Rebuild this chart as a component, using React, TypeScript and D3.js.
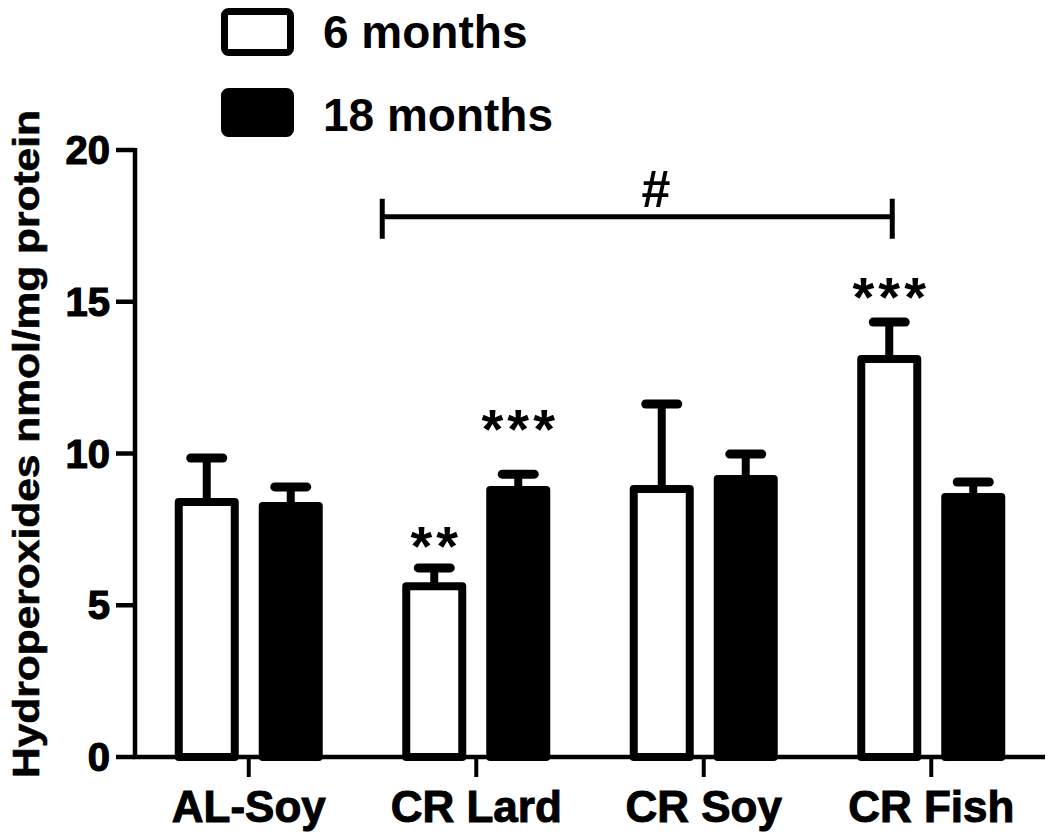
import React from "react";
import * as d3 from "d3";

const categories = ["AL-Soy", "CR Lard", "CR Soy", "CR Fish"];
const series = ["6 months", "18 months"];
const means6 = [8.4, 5.63, 8.83, 13.11];
const means18 = [8.27, 8.8, 9.16, 8.57];
const sem6 = [1.45, 0.6, 2.8, 1.22];
const sem18 = [0.63, 0.52, 0.82, 0.49];
const yTicks = [0, 5, 10, 15, 20];

// significance marks: category, series, label, level (in y units)
const stars = [
  { cat: "CR Lard", s: "6 months", label: "**", level: 7.35 },
  { cat: "CR Lard", s: "18 months", label: "***", level: 11.2 },
  { cat: "CR Fish", s: "6 months", label: "***", level: 15.55 },
];
const bracket = { from: "CR Lard", to: "CR Fish", label: "#", level: 17.8 };

const font = "'Liberation Sans', Arial, sans-serif";

export default function App() {
  const width = 1050;
  const height = 834;
  const x0 = 135;
  const x1 = 1045;
  const yBase = 757;
  const yTop = 150;

  const x = d3.scaleBand<string>().domain(categories).range([x0, x1]);
  const bw = x.bandwidth();
  const xs = d3
    .scaleBand<string>()
    .domain(series)
    .range([bw / 2 - 74, bw / 2 + 74])
    .paddingInner(0.238);
  const y = d3.scaleLinear().domain([0, 20]).range([yBase, yTop]);

  const rows = categories.flatMap((c, i) => [
    { c, s: series[0], v: means6[i], e: sem6[i], fill: "#fff" },
    { c, s: series[1], v: means18[i], e: sem18[i], fill: "#000" },
  ]);

  const sw = 8;
  const barW = xs.bandwidth();
  const cx = (c: string, s: string) => (x(c) ?? 0) + (xs(s) ?? 0) + barW / 2;

  const bx1 = (x(bracket.from) ?? 0) + (xs(series[0]) ?? 0) - 20;
  const bx2 = cx(bracket.to, series[0]) + 3;
  const by = y(bracket.level);

  return (
    <svg width={width} height={height} style={{ display: "block", position: "absolute", left: 0, top: 0 }}>
      <rect width={width} height={height} fill="#fff" />

      {/* legend */}
      <g fontFamily={font} fontWeight="bold" fontSize={46}>
        <rect x={224.5} y={11.5} width={66} height={41} rx={4} fill="#fff" stroke="#000" strokeWidth={7} />
        <text x={323} y={48}>{series[0]}</text>
        <rect x={224.5} y={91.5} width={66} height={42} rx={4} fill="#000" stroke="#000" strokeWidth={7} />
        <text x={323} y={131}>{series[1]}</text>
      </g>

      {/* bars + error bars */}
      {rows.map((r, i) => {
        const c = cx(r.c, r.s);
        const top = y(r.v);
        const cap = y(r.v + r.e);
        return (
          <g key={i}>
            <line x1={c} x2={c} y1={top} y2={cap} stroke="#000" strokeWidth={8} />
            <line x1={c - 16} x2={c + 16} y1={cap} y2={cap} stroke="#000" strokeWidth={9} strokeLinecap="round" />
            <rect
              x={c - barW / 2 + sw / 2}
              y={top}
              width={barW - sw}
              height={yBase - top}
              fill={r.fill}
              stroke="#000"
              strokeWidth={sw}
              strokeLinejoin="round"
            />
          </g>
        );
      })}

      {/* y axis */}
      <line x1={x0} x2={x0} y1={yTop - 2} y2={yBase + 2} stroke="#000" strokeWidth={4.5} />
      {yTicks.map((t) => (
        <g key={t}>
          <line x1={116} x2={x0} y1={y(t)} y2={y(t)} stroke="#000" strokeWidth={4.5} />
          <text
            x={110}
            y={y(t) + 14}
            textAnchor="end"
            fontFamily={font}
            fontWeight="bold"
            fontSize={40}
            stroke="#000"
            strokeWidth={1.2}
          >
            {t}
          </text>
        </g>
      ))}
      <text
        transform={`translate(39,444) rotate(-90)`}
        textAnchor="middle"
        fontFamily={font}
        fontWeight="bold"
        fontSize={36}
        textLength={668}
        lengthAdjust="spacingAndGlyphs"
        stroke="#000"
        strokeWidth={0.6}
      >
        Hydroperoxides nmol/mg protein
      </text>

      {/* x axis */}
      <line x1={x0 - 2} x2={x1} y1={yBase} y2={yBase} stroke="#000" strokeWidth={4.5} />
      {categories.map((c) => {
        const m = (x(c) ?? 0) + bw / 2;
        return (
          <g key={c}>
            <line x1={m} x2={m} y1={yBase} y2={yBase + 20} stroke="#000" strokeWidth={4} />
            <text
              x={m}
              y={822}
              textAnchor="middle"
              fontFamily={font}
              fontWeight="bold"
              fontSize={44}
              stroke="#000"
              strokeWidth={1}
            >
              {c}
            </text>
          </g>
        );
      })}

      {/* significance stars */}
      {stars.map((s, i) => (
        <text
          key={i}
          x={cx(s.cat, s.s) + 2}
          y={y(s.level) + 31}
          textAnchor="middle"
          fontFamily={font}
          fontWeight="bold"
          fontSize={56}
          letterSpacing={4}
        >
          {s.label}
        </text>
      ))}

      {/* bracket */}
      <g stroke="#000" strokeWidth={5}>
        <line x1={bx1} x2={bx2} y1={by} y2={by} />
        <line x1={bx1} x2={bx1} y1={by - 18} y2={by + 22} />
        <line x1={bx2} x2={bx2} y1={by - 18} y2={by + 22} />
      </g>
      <text x={656} y={207} textAnchor="middle" fontFamily={font} fontWeight="bold" fontSize={52}>
        {bracket.label}
      </text>
    </svg>
  );
}
